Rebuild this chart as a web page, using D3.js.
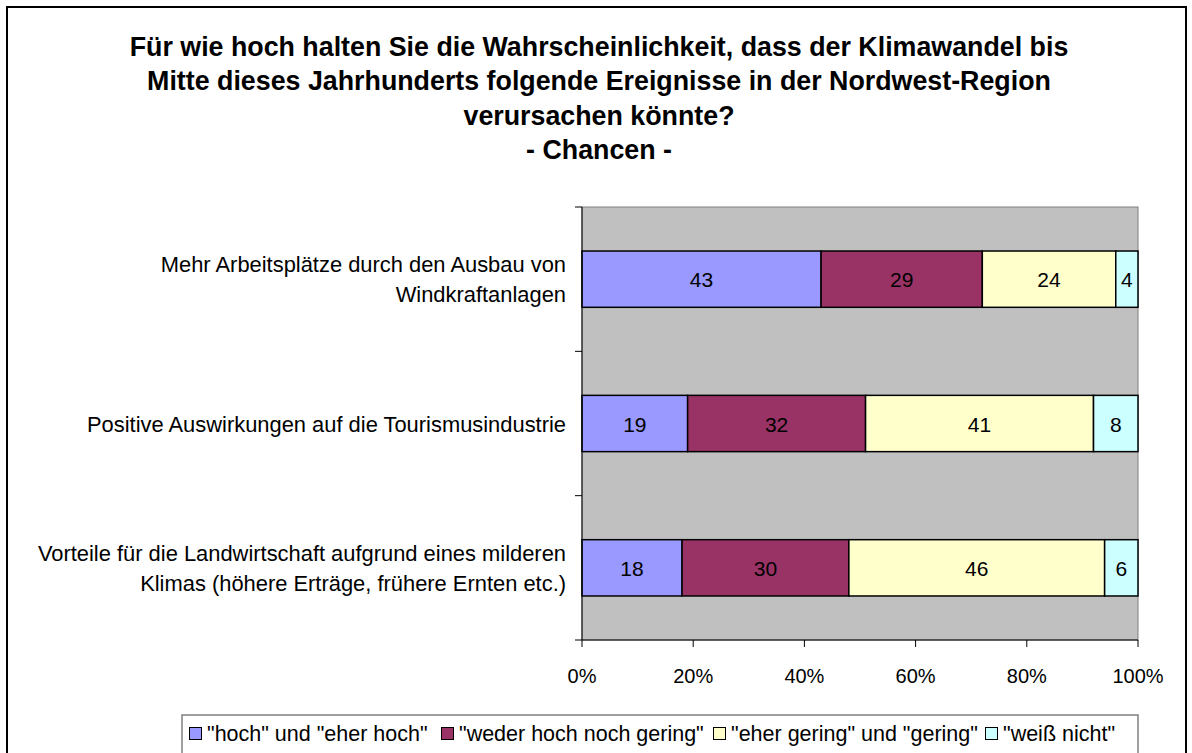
<!DOCTYPE html>
<html>
<head>
<meta charset="utf-8">
<script src="https://cdn.jsdelivr.net/npm/d3@7"></script>
<style>
  body { margin: 0; background: #fff; }
  svg text { font-family: Arial, "Liberation Sans", sans-serif; fill: #000; }
</style>
</head>
<body>
<svg class="chart"></svg>
<script>
const categories = [
    ['Mehr Arbeitsplätze durch den Ausbau von', 'Windkraftanlagen'],
    ['Positive Auswirkungen auf die Tourismusindustrie'],
    ['Vorteile für die Landwirtschaft aufgrund eines milderen', 'Klimas (höhere Erträge, frühere Ernten etc.)']
]
const seriesNames = ['"hoch" und "eher hoch"', '"weder hoch noch gering"', '"eher gering" und "gering"', '"weiß nicht"']
const seriesColors = ['#9999ff', '#993366', '#ffffcc', '#ccffff']
const hoch = [43, 19, 18]
const weder = [29, 32, 30]
const gering = [24, 41, 46]
const weissNicht = [4, 8, 6]
const xTicks = [0, 20, 40, 60, 80, 100]
const titleLines = [
    'Für wie hoch halten Sie die Wahrscheinlichkeit, dass der Klimawandel bis',
    'Mitte dieses Jahrhunderts folgende Ereignisse in der Nordwest-Region',
    'verursachen könnte?',
    '- Chancen -'
]

const width = 1192
const height = 753
const plot = { left: 582, right: 1138, top: 207, bottom: 640 }

const svg = d3.select('.chart')
    .attr('width', width)
    .attr('height', height)

// outer frame
svg.append('rect')
    .attr('x', 7).attr('y', 7)
    .attr('width', 1179).attr('height', 760)
    .attr('fill', '#fff')
    .attr('stroke', '#000')
    .attr('stroke-width', 2)

svg.selectAll('.title')
    .data(titleLines)
    .enter()
    .append('text')
    .attr('class', 'title')
    .attr('x', 599)
    .attr('y', (d, i) => 56 + i * 34.3)
    .attr('text-anchor', 'middle')
    .style('font-size', '26.8px')
    .style('font-weight', 'bold')
    .text(d => d)

const series = [hoch, weder, gering, weissNicht]
const rows = categories.map((c, i) => {
    let x0 = 0
    return series.map((s, k) => {
        const seg = { cat: i, k, v: s[i], x0 }
        x0 += s[i]
        return seg
    })
})

const xScale = d3.scaleLinear()
    .domain([0, 100])
    .range([plot.left, plot.right])

const yScale = d3.scaleBand()
    .domain(d3.range(categories.length))
    .range([plot.top, plot.bottom])
    .paddingInner(0.61)
    .paddingOuter(0.305)

svg.append('rect')
    .attr('x', plot.left).attr('y', plot.top)
    .attr('width', plot.right - plot.left)
    .attr('height', plot.bottom - plot.top)
    .attr('fill', '#c0c0c0')
    .attr('stroke', '#808080')
    .attr('stroke-width', 1)

const segs = svg.selectAll('.seg')
    .data(rows.flat())
    .enter()
    .append('g')
    .attr('class', 'seg')

segs.append('rect')
    .attr('x', d => xScale(d.x0))
    .attr('y', d => yScale(d.cat))
    .attr('width', d => xScale(d.x0 + d.v) - xScale(d.x0))
    .attr('height', yScale.bandwidth())
    .attr('fill', d => seriesColors[d.k])
    .attr('stroke', '#000')
    .attr('stroke-width', 1.5)

segs.append('text')
    .attr('x', d => xScale(d.x0 + d.v / 2))
    .attr('y', d => yScale(d.cat) + yScale.bandwidth() / 2 + 8)
    .attr('text-anchor', 'middle')
    .style('font-size', '21px')
    .text(d => d.v)

// axes
const axisG = svg.append('g')
axisG.append('line')
    .attr('x1', plot.left).attr('x2', plot.left)
    .attr('y1', plot.top).attr('y2', plot.bottom)
    .attr('stroke', '#000')
axisG.append('line')
    .attr('x1', plot.left).attr('x2', plot.right)
    .attr('y1', plot.bottom).attr('y2', plot.bottom)
    .attr('stroke', '#000')

const yBounds = d3.range(categories.length + 1).map(i => plot.top + i * (plot.bottom - plot.top) / categories.length)
axisG.selectAll('.ytick')
    .data(yBounds)
    .enter()
    .append('line')
    .attr('x1', plot.left - 7).attr('x2', plot.left)
    .attr('y1', d => d).attr('y2', d => d)
    .attr('stroke', '#000')

axisG.selectAll('.xtick')
    .data(xTicks)
    .enter()
    .append('line')
    .attr('x1', d => xScale(d)).attr('x2', d => xScale(d))
    .attr('y1', plot.bottom).attr('y2', plot.bottom + 7)
    .attr('stroke', '#000')

axisG.selectAll('.xlabel')
    .data(xTicks)
    .enter()
    .append('text')
    .attr('x', d => xScale(d))
    .attr('y', 683)
    .attr('text-anchor', 'middle')
    .style('font-size', '20px')
    .text(d => d + '%')

// category labels
const catG = svg.selectAll('.cat')
    .data(categories)
    .enter()
    .append('text')
    .attr('class', 'cat')
    .attr('text-anchor', 'end')
    .style('font-size', '21.9px')

catG.selectAll('tspan')
    .data((d, i) => d.map((line, j) => ({ line, j, n: d.length, i })))
    .enter()
    .append('tspan')
    .attr('x', 566)
    .attr('y', d => yScale(d.i) + yScale.bandwidth() / 2 + 8 + (d.j - (d.n - 1) / 2) * 30)
    .text(d => d.line)

// legend
const legend = svg.append('g')
legend.append('rect')
    .attr('x', 182).attr('y', 715)
    .attr('width', 956).attr('height', 60)
    .attr('fill', '#fff')
    .attr('stroke', '#808080')
    .attr('stroke-width', 1.5)

const legendX = [189, 441, 713, 985]
const items = legend.selectAll('.item')
    .data(seriesNames)
    .enter()
    .append('g')
    .attr('transform', (d, i) => `translate(${legendX[i]}, 741)`)

items.append('rect')
    .attr('x', 0.5).attr('y', -13.5)
    .attr('width', 12).attr('height', 12)
    .attr('fill', (d, i) => seriesColors[i])
    .attr('stroke', '#000')
    .attr('stroke-width', 1)

items.append('text')
    .attr('x', 18)
    .attr('y', 0)
    .style('font-size', '21.5px')
    .text(d => d)
</script>
</body>
</html>
